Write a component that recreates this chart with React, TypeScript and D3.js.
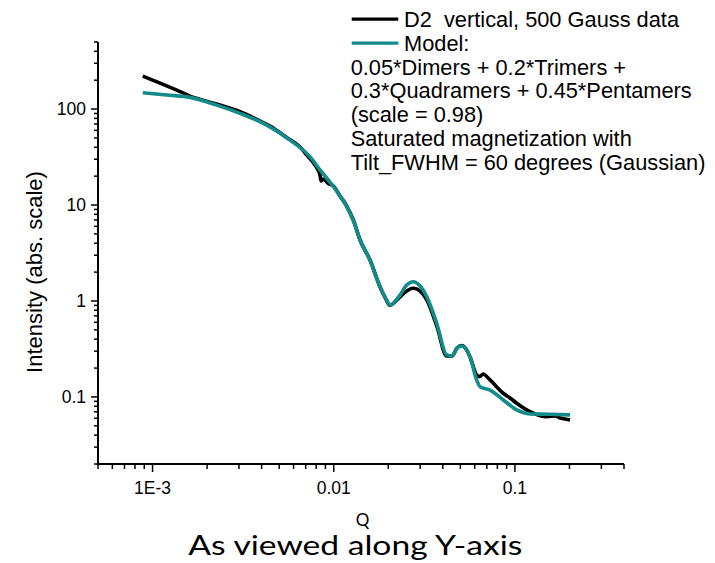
import React from 'react';
import * as d3 from 'd3';

// ---- data ----
const dataQ = [8.83e-4, 1.10e-3, 1.36e-3, 1.61e-3, 1.83e-3, 2.26e-3, 3.04e-3, 3.92e-3, 4.45e-3, 5.50e-3, 6.52e-3, 7.10e-3, 7.88e-3, 8.40e-3, 8.51e-3, 8.73e-3, 9.30e-3, 9.95e-3, 0.01083, 0.0118, 0.01283, 0.01397, 0.01586, 0.01801, 0.0192, 0.02045, 0.0218, 0.02322, 0.02528, 0.0275, 0.02995, 0.03262, 0.03703, 0.04204, 0.04497, 0.04792, 0.05086, 0.05372, 0.05651, 0.06155, 0.06418, 0.06668, 0.07288, 0.0863, 0.09397, 0.1023, 0.1211, 0.1498, 0.1665, 0.1774, 0.189, 0.2014];
const dataI = [220.7, 186.6, 157.7, 136.6, 126.2, 112.7, 93.7, 75.0, 66.5, 50.5, 40.2, 33.2, 26.1, 20.5, 17.8, 18.7, 16.9, 15.8, 12.4, 9.76, 6.98, 4.32, 2.67, 1.40, 1.087, 0.898, 0.976, 1.10, 1.271, 1.356, 1.271, 1.024, 0.549, 0.2674, 0.2674, 0.3238, 0.344, 0.316, 0.261, 0.1695, 0.1627, 0.1736, 0.1503, 0.1093, 0.0976, 0.086, 0.0703, 0.0623, 0.0634, 0.0604, 0.059, 0.0576];

const modelQ = [8.83e-4, 1.198e-3, 1.61e-3, 2.26e-3, 3.04e-3, 4.27e-3, 5.74e-3, 7.39e-3, 8.40e-3, 9.97e-3, 0.0118, 0.0128, 0.01397, 0.01585, 0.018, 0.0192, 0.02046, 0.0218, 0.02323, 0.02528, 0.0275, 0.02995, 0.0326, 0.037, 0.04204, 0.045, 0.04792, 0.0508, 0.05372, 0.0565, 0.0615, 0.0642, 0.0729, 0.0863, 0.1023, 0.121, 0.156, 0.2014];
const modelI = [147.9, 140, 132.4, 110, 90.2, 68.1, 47.5, 31.9, 23.2, 15.5, 9.6, 6.98, 4.32, 2.67, 1.41, 1.10, 0.908, 0.988, 1.155, 1.468, 1.589, 1.433, 1.109, 0.586, 0.274, 0.267, 0.3238, 0.34, 0.316, 0.263, 0.150, 0.128, 0.118, 0.093, 0.0732, 0.0665, 0.066, 0.065];

const xDomain = [5e-4, 0.4];
const yDomain = [0.02, 500];
const xMajorTicks = [1e-3, 0.01, 0.1];
const xTickLabels = ['1E-3', '0.01', '0.1'];
const yMajorTicks = [0.1, 1, 10, 100];
const yTickLabels = ['0.1', '1', '10', '100'];

const xTitle = 'Q';
const yTitle = 'Intensity (abs. scale)';
const caption = 'As viewed along Y-axis';
const legendSeries = ['D2  vertical, 500 Gauss data', 'Model:'];
const legendNotes = [
  '0.05*Dimers + 0.2*Trimers +',
  '0.3*Quadramers + 0.45*Pentamers',
  '(scale = 0.98)',
  'Saturated magnetization with',
  'Tilt_FWHM = 60 degrees (Gaussian)',
];

const DATA_COLOR = '#000000';
const MODEL_COLOR = '#128b8b';
const FONT = '"Liberation Sans", Arial, sans-serif';

export default function App() {
  const W = 715, H = 563;
  const left = 98, right = 624, top = 42, bottom = 464;

  const x = d3.scaleLog().domain(xDomain).range([left, right]);
  const y = d3.scaleLog().domain(yDomain).range([bottom, top]);

  const isMajor = (v: number) => Math.abs(Math.log10(v) - Math.round(Math.log10(v))) < 1e-6;
  const xTicks = x.ticks();
  const yTicks = y.ticks();

  const line = d3.line<[number, number]>()
    .x(d => x(d[0]))
    .y(d => y(d[1]))
    .curve(d3.curveMonotoneX);

  const dataPts: [number, number][] = dataQ.map((q, i) => [q, dataI[i]]);
  const modelPts: [number, number][] = modelQ.map((q, i) => [q, modelI[i]]);

  const legX1 = 351.7, legX2 = 398.3, legTextX = 404;
  const legBase = 26.7, legStep = 23.9;

  return (
    <svg width={W} height={H} style={{ position: 'absolute', left: 0, top: 0, display: 'block' }}>
      <rect x={0} y={0} width={W} height={H} fill="#fff" />

      {/* curves */}
      <path d={line(dataPts) || ''} fill="none" stroke={DATA_COLOR} strokeWidth={3.6} strokeLinejoin="round" />
      <path d={line(modelPts) || ''} fill="none" stroke={MODEL_COLOR} strokeWidth={3.6} strokeLinejoin="round" />

      {/* axes */}
      <line x1={left} x2={left} y1={top} y2={bottom + 1} stroke="#000" strokeWidth={2} />
      <line x1={left - 1} x2={right} y1={bottom} y2={bottom} stroke="#000" strokeWidth={2} />

      {xTicks.map((t, i) => (
        <line key={'xt' + i} x1={x(t)} x2={x(t)} y1={bottom} y2={bottom + (isMajor(t) ? 8 : 5)} stroke="#000" strokeWidth={1.5} />
      ))}
      {yTicks.map((t, i) => (
        <line key={'yt' + i} x1={left} x2={left - (isMajor(t) ? 7 : 4)} y1={y(t)} y2={y(t)} stroke="#000" strokeWidth={1.5} />
      ))}

      {xMajorTicks.map((t, i) => (
        <text key={'xl' + i} x={x(t)} y={493.5} textAnchor="middle" fontFamily={FONT} fontSize={17.5} fill="#000">{xTickLabels[i]}</text>
      ))}
      {yMajorTicks.map((t, i) => (
        <text key={'yl' + i} x={86} y={y(t) + 6.2} textAnchor="end" fontFamily={FONT} fontSize={17.5} fill="#000">{yTickLabels[i]}</text>
      ))}

      {/* axis titles */}
      <text transform={`translate(41.5, ${(top + bottom) / 2 + 19}) rotate(-90)`} textAnchor="middle" fontFamily={FONT} fontSize={22} fill="#000">{yTitle}</text>
      <text x={(left + right) / 2 + 1.5} y={525.5} textAnchor="middle" fontFamily="Lato, sans-serif" fontSize={17} fill="#000">{xTitle}</text>
      <text x={188.3} y={555} fontFamily="Lato, sans-serif" fontSize={26} textLength={334} lengthAdjust="spacingAndGlyphs" fill="#000">{caption}</text>

      {/* legend */}
      {legendSeries.map((s, i) => (
        <g key={'lg' + i}>
          <line x1={legX1} x2={legX2} y1={legBase + i * legStep - 7.5} y2={legBase + i * legStep - 7.5} stroke={i === 0 ? DATA_COLOR : MODEL_COLOR} strokeWidth={3.2} />
          <text x={legTextX} y={legBase + i * legStep} fontFamily={FONT} fontSize={21.8} fill="#000" style={{ whiteSpace: 'pre' }}>{s}</text>
        </g>
      ))}
      {legendNotes.map((s, i) => (
        <text key={'ln' + i} x={legX1 - 1} y={legBase + (i + 2) * legStep} fontFamily={FONT} fontSize={21.8} fill="#000">{s}</text>
      ))}
    </svg>
  );
}
